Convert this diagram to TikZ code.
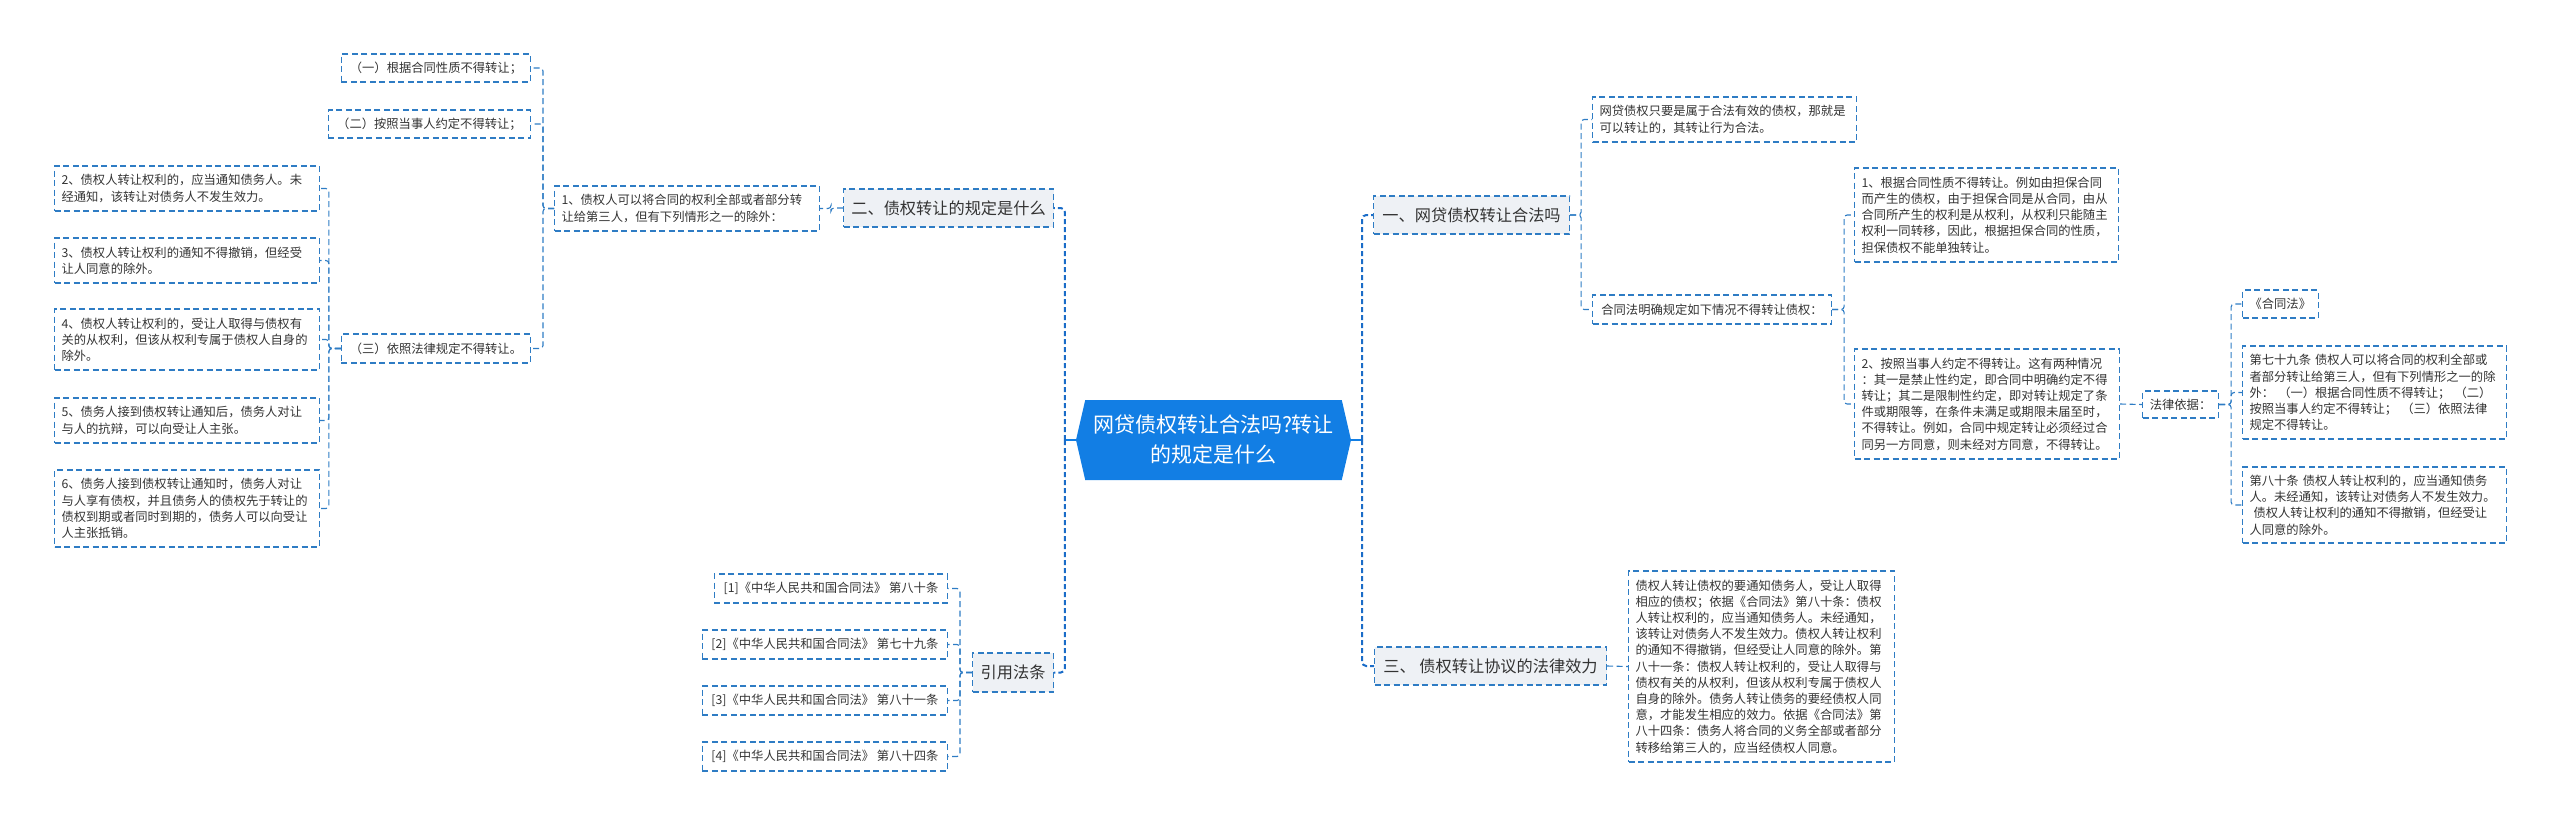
\documentclass[tikz,border=0pt]{standalone}
\usepackage{fontspec}
\newfontfamily\cjk{Noto Sans CJK SC}
\usetikzlibrary{shapes.symbols}
\definecolor{mapblue}{RGB}{46,124,196}
\definecolor{spineblue}{RGB}{26,108,200}
\definecolor{hubblue}{RGB}{18,126,228}
\definecolor{topicgray}{RGB}{238,241,245}
\definecolor{inkgray}{RGB}{51,51,51}
\begin{document}
\begin{tikzpicture}[x=1pt, y=-1pt,
  leaf/.style={draw=mapblue, dash pattern=on 6pt off 3.5pt, line width=1.1pt, text=inkgray,
    font=\cjk\fontsize{12.3}{16.2}\selectfont, inner xsep=7pt, inner ysep=0pt, align=left},
  topic/.style={leaf, fill=topicgray, font=\cjk\fontsize{16.2}{20}\selectfont, align=center},
  hubnode/.style={signal, signal to=west and east, signal pointer angle=154, fill=hubblue, text=white,
    font=\cjk\fontsize{21}{30}\selectfont, align=center, inner xsep=2pt, minimum height=80pt},
  link/.style={draw=mapblue, dash pattern=on 6pt off 3.5pt, line width=1.1pt, rounded corners=3pt},
  spine/.style={draw=spineblue, dash pattern=on 5pt off 3pt, line width=2pt, rounded corners=4pt},
  hubline/.style={draw=hubblue, line width=1.6pt}]
  \useasboundingbox (0,0) rectangle (2560,825);

  % centre
  \node[hubnode, minimum width=275pt] (hub) at (1213.5,440) {网贷债权转让合法吗?转让\\的规定是什么};

  % left half
  \node[topic, anchor=west, minimum width=210pt, minimum height=38pt] (sec2) at (843,208) {二、债权转让的规定是什么};
  \node[leaf, anchor=west, text width=251pt, minimum height=45pt] (rule) at (554,208.5) {1、债权人可以将合同的权利全部或者部分转\\让给第三人，但有下列情形之一的除外：};
  \node[leaf, anchor=east, minimum width=189pt, minimum height=28pt] (lim1) at (531,68) {（一）根据合同性质不得转让；};
  \node[leaf, anchor=east, minimum width=202pt, minimum height=28pt] (lim2) at (531,124) {（二）按照当事人约定不得转让；};
  \node[leaf, anchor=east, minimum width=189pt, minimum height=29pt] (lim3) at (531,348.5) {（三）依照法律规定不得转让。};
  \node[leaf, anchor=west, text width=251pt, minimum height=45pt] (r2) at (54,188.5) {2、债权人转让权利的，应当通知债务人。未\\经通知，该转让对债务人不发生效力。};
  \node[leaf, anchor=west, text width=251pt, minimum height=45pt] (r3) at (54,260.5) {3、债权人转让权利的通知不得撤销，但经受\\让人同意的除外。};
  \node[leaf, anchor=west, text width=251pt, minimum height=61pt] (r4) at (54,339.5) {4、债权人转让权利的，受让人取得与债权有\\关的从权利，但该从权利专属于债权人自身的\\除外。};
  \node[leaf, anchor=west, text width=251pt, minimum height=45pt] (r5) at (54,420.5) {5、债务人接到债权转让通知后，债务人对让\\与人的抗辩，可以向受让人主张。};
  \node[leaf, anchor=west, text width=251pt, minimum height=77pt] (r6) at (54,508.5) {6、债务人接到债权转让通知时，债务人对让\\与人享有债权，并且债务人的债权先于转让的\\债权到期或者同时到期的，债务人可以向受让\\人主张抵销。};

  \node[topic, anchor=west, minimum width=81pt, minimum height=39pt] (cite) at (972,672.5) {引用法条};
  \node[leaf, anchor=east, minimum width=233pt, minimum height=29pt] (c1) at (948,588.5) {[1]《中华人民共和国合同法》 第八十条};
  \node[leaf, anchor=east, minimum width=245pt, minimum height=29pt] (c2) at (948,644.5) {[2]《中华人民共和国合同法》 第七十九条};
  \node[leaf, anchor=east, minimum width=245pt, minimum height=29pt] (c3) at (948,700.5) {[3]《中华人民共和国合同法》 第八十一条};
  \node[leaf, anchor=east, minimum width=245pt, minimum height=29pt] (c4) at (948,756.5) {[4]《中华人民共和国合同法》 第八十四条};

  % right half
  \node[topic, anchor=west, minimum width=196pt, minimum height=38pt] (sec1) at (1373,215) {一、网贷债权转让合法吗};
  \node[leaf, anchor=west, text width=250pt, minimum height=45pt] (legal) at (1592,119.5) {网贷债权只要是属于合法有效的债权，那就是\\可以转让的，其转让行为合法。};
  \node[leaf, anchor=west, minimum width=239pt, minimum height=29pt] (ban) at (1592,309.5) {合同法明确规定如下情况不得转让债权：};
  \node[leaf, anchor=west, text width=250pt, minimum height=94pt] (ban1) at (1854,215) {1、根据合同性质不得转让。例如由担保合同\\而产生的债权，由于担保合同是从合同，由从\\合同所产生的权利是从权利，从权利只能随主\\权利一同转移，因此，根据担保合同的性质，\\担保债权不能单独转让。};
  \node[leaf, anchor=west, text width=251pt, minimum height=110pt] (ban2) at (1854,404) {2、按照当事人约定不得转让。这有两种情况\\：其一是禁止性约定，即合同中明确约定不得\\转让；其二是限制性约定，即对转让规定了条\\件或期限等，在条件未满足或期限未届至时，\\不得转让。例如，合同中规定转让必须经过合\\同另一方同意，则未经对方同意，不得转让。};
  \node[leaf, anchor=west, minimum width=76pt, minimum height=27pt] (basis) at (2142,404.5) {法律依据：};
  \node[leaf, anchor=west, minimum width=75pt, minimum height=28pt] (law) at (2242,304) {《合同法》};
  \node[leaf, anchor=west, text width=250pt, minimum height=93pt] (art79) at (2242,392.5) {第七十九条 债权人可以将合同的权利全部或\\者部分转让给第三人，但有下列情形之一的除\\外： （一）根据合同性质不得转让； （二）\\按照当事人约定不得转让； （三）依照法律\\规定不得转让。};
  \node[leaf, anchor=west, text width=250pt, minimum height=76pt] (art80) at (2242,505) {第八十条 债权人转让权利的，应当通知债务\\人。未经通知，该转让对债务人不发生效力。\\\hspace*{4pt}债权人转让权利的通知不得撤销，但经受让\\人同意的除外。};
  \node[topic, anchor=west, minimum width=232pt, minimum height=38pt] (sec3) at (1374,666) {三、 债权转让协议的法律效力};
  \node[leaf, anchor=west, text width=252pt, minimum height=191pt] (effect) at (1628,666.5) {债权人转让债权的要通知债务人，受让人取得\\相应的债权；依据《合同法》第八十条：债权\\人转让权利的，应当通知债务人。未经通知，\\该转让对债务人不发生效力。债权人转让权利\\的通知不得撤销，但经受让人同意的除外。第\\八十一条：债权人转让权利的，受让人取得与\\债权有关的从权利，但该从权利专属于债权人\\自身的除外。债务人转让债务的要经债权人同\\意，才能发生相应的效力。依据《合同法》第\\八十四条：债务人将合同的义务全部或者部分\\转移给第三人的，应当经债权人同意。};

  % connectors
  \draw[hubline] (hub.west) -- ++(-11,0) coordinate (lsp);
  \draw[hubline] (hub.east) -- ++(11,0) coordinate (rsp);
  \draw[spine] (lsp) |- (sec2.east);
  \draw[spine] (lsp) |- (cite.east);
  \draw[spine] (rsp) |- (sec1.west);
  \draw[spine] (rsp) |- (sec3.west);

  \draw[link] (sec2.west) -- ++(-12,0) |- (rule.east);
  \foreach \n in {lim1,lim2,lim3}
    \draw[link] (rule.west) -- ++(-11,0) |- (\n.east);
  \foreach \n in {r2,r3,r4,r5,r6}
    \draw[link] (lim3.west) -- ++(-12,0) |- (\n.east);
  \foreach \n in {c1,c2,c3,c4}
    \draw[link] (cite.west) -- ++(-12,0) |- (\n.east);

  \foreach \n in {legal,ban}
    \draw[link] (sec1.east) -- ++(11,0) |- (\n.west);
  \foreach \n in {ban1,ban2}
    \draw[link] (ban.east) -- ++(12,0) |- (\n.west);
  \draw[link] (ban2.east) -- (basis.west);
  \foreach \n in {law,art79,art80}
    \draw[link] (basis.east) -- ++(12,0) |- (\n.west);
  \draw[link] (sec3.east) -- (effect.west);
\end{tikzpicture}
\end{document}
